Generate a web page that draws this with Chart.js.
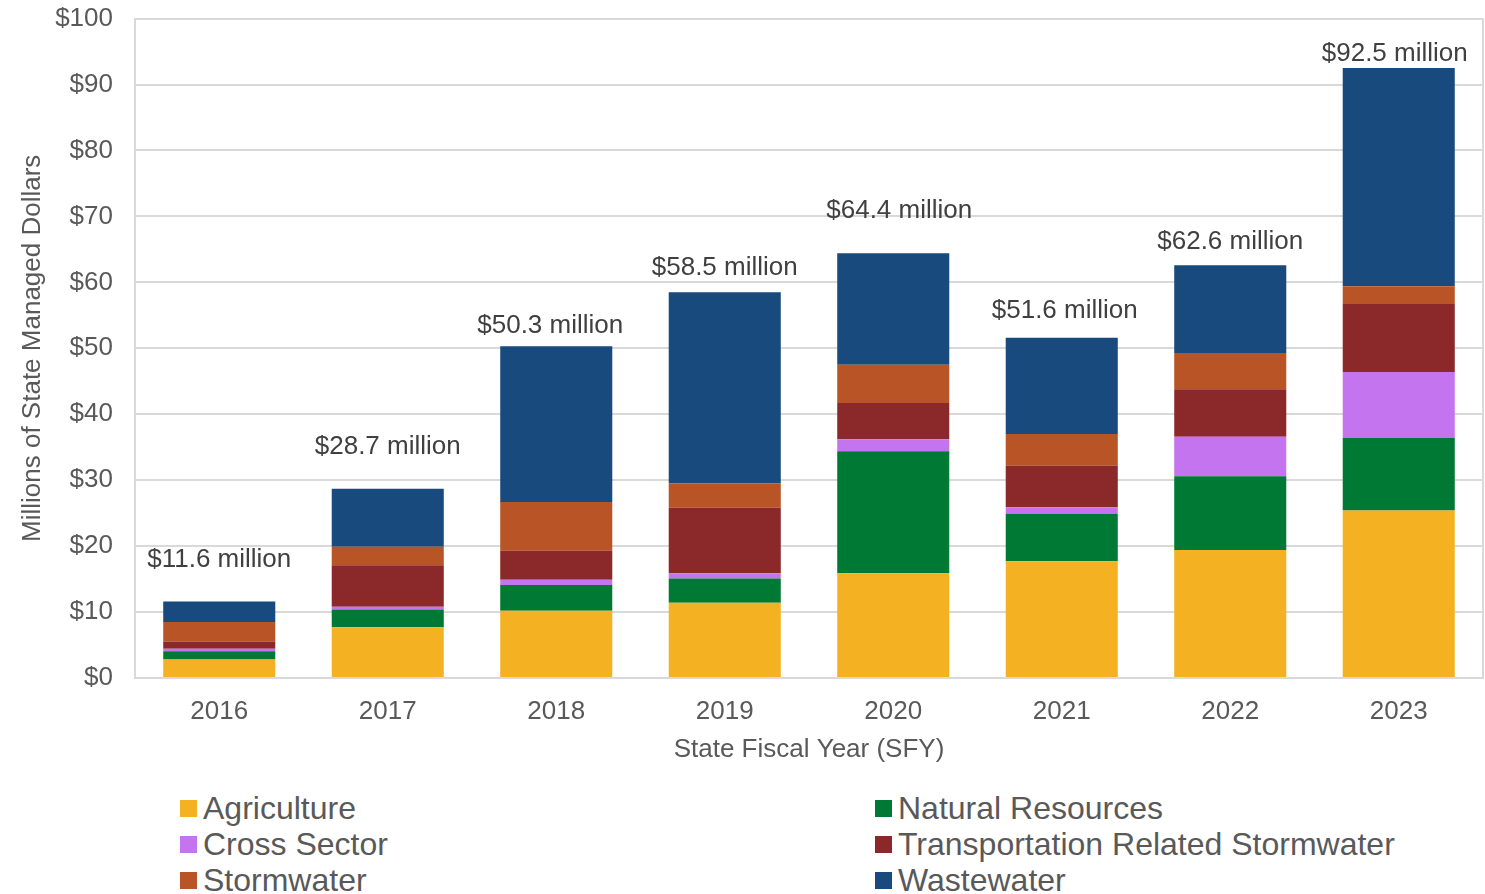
<!DOCTYPE html>
<html>
<head>
<meta charset="utf-8">
<script src="https://cdn.jsdelivr.net/npm/chart.js@4/dist/chart.umd.min.js"></script>
<style>
  html,body{margin:0;padding:0;background:#fff;}
  #wrap{position:relative;width:1485px;height:894px;overflow:hidden;font-family:"Liberation Sans",Arial,sans-serif;}
  #box{position:absolute;left:0;top:-19px;width:1485px;height:799px;}
  #legend{position:absolute;left:180px;top:790px;display:grid;grid-template-columns:695px 600px;row-gap:0;}
  .li{display:flex;align-items:center;height:36px;font-size:32px;color:#595959;white-space:nowrap;}
  .sw{width:17px;height:17px;margin-right:6px;flex:none;}
</style>
</head>
<body>
<div id="wrap">
  <div id="box"><canvas id="c"></canvas></div>
  <div id="legend"></div>
</div>
<script>
const years = ['2016','2017','2018','2019','2020','2021','2022','2023'];
const agriculture    = [2.8, 7.7, 10.2, 11.4, 15.9, 17.7, 19.4, 25.4];
const naturalRes     = [1.25, 2.7, 3.9, 3.7, 18.5, 7.2, 11.2, 11.0];
const crossSector    = [0.4, 0.4, 0.8, 0.8, 1.8, 1.0, 6.0, 10.0];
const transportation = [1.1, 6.3, 4.4, 9.9, 5.5, 6.3, 7.2, 10.3];
const stormwater     = [2.95, 2.8, 7.4, 3.7, 5.8, 4.8, 5.5, 2.7];
const wastewater     = [3.1, 8.8, 23.6, 29.0, 16.9, 14.6, 13.3, 33.1];
const totalLabels    = ['$11.6 million','$28.7 million','$50.3 million','$58.5 million','$64.4 million','$51.6 million','$62.6 million','$92.5 million'];
const yTicks = [0,10,20,30,40,50,60,70,80,90,100];

// hand-placed label nudges (px) as in the original
const labelLift  = [42, 42, 20, 24, 43, 27, 23, 14];
const labelShift = [0, 0, -6, 0, 6, 3, 0, -4];

const FONT = '"Liberation Sans", Arial, sans-serif';
const TXT = '#595959';
const GRID = '#d9d9d9';

const series = [
  {label:'Agriculture', data:agriculture, color:'#F4B223'},
  {label:'Natural Resources', data:naturalRes, color:'#007934'},
  {label:'Cross Sector', data:crossSector, color:'#C474EE'},
  {label:'Transportation Related Stormwater', data:transportation, color:'#8B2829'},
  {label:'Stormwater', data:stormwater, color:'#B85425'},
  {label:'Wastewater', data:wastewater, color:'#184A7D'}
];

const totalsPlugin = {
  id:'totals',
  afterDatasetsDraw(chart){
    const ctx = chart.ctx;
    const meta = chart.getDatasetMeta(chart.data.datasets.length-1);
    ctx.save();
    ctx.font = '26px ' + FONT;
    ctx.fillStyle = '#404040';
    ctx.textAlign = 'center';
    ctx.textBaseline = 'middle';
    meta.data.forEach((bar,i)=>{ ctx.fillText(totalLabels[i], bar.x + labelShift[i], bar.y - labelLift[i]); });
    ctx.restore();
  }
};

const chart = new Chart(document.getElementById('c'), {
  type:'bar',
  data:{
    labels:years,
    datasets:series.map(s=>({label:s.label,data:s.data,backgroundColor:s.color,borderWidth:0,
      categoryPercentage:1,barPercentage:0.665}))
  },
  options:{
    responsive:true,maintainAspectRatio:false,animation:false,
    layout:{padding:{top:0,right:2,bottom:2,left:0}},
    plugins:{legend:{display:false},tooltip:{enabled:false}},
    scales:{
      x:{stacked:true,
        grid:{display:false,drawTicks:false},
        border:{display:true,color:GRID,width:2},
        ticks:{color:TXT,font:{family:FONT,size:26},padding:18},
        title:{display:true,text:'State Fiscal Year (SFY)',color:TXT,font:{family:FONT,size:26},padding:{top:0,bottom:13}},
        afterFit(s){s.height=100;}
      },
      y:{stacked:true,min:0,max:100,
        afterBuildTicks(s){s.ticks=yTicks.map(v=>({value:v}));},
        grid:{color:GRID,lineWidth:2,drawTicks:false},
        border:{display:true,color:GRID,width:2},
        ticks:{color:TXT,font:{family:FONT,size:26},padding:22,callback:v=>'$'+v},
        title:{display:true,text:'Millions of State Managed Dollars',color:TXT,font:{family:FONT,size:26},padding:{top:17,bottom:0}},
        afterFit(s){s.width=135;}
      }
    }
  },
  plugins:[totalsPlugin,{
    id:'rightBorder',
    afterDraw(chart){
      const a=chart.chartArea,ctx=chart.ctx;
      ctx.save();ctx.strokeStyle=GRID;ctx.lineWidth=2;
      ctx.beginPath();ctx.moveTo(a.right,a.top);ctx.lineTo(a.right,a.bottom);ctx.stroke();
      ctx.restore();
    }
  }]
});

// legend in two columns, row-major order like the reference
const leg = document.getElementById('legend');
chart.data.datasets.forEach(ds=>{
  const d=document.createElement('div');d.className='li';
  d.innerHTML='<span class="sw" style="background:'+ds.backgroundColor+'"></span>'+ds.label;
  leg.appendChild(d);
});
</script>
</body>
</html>
